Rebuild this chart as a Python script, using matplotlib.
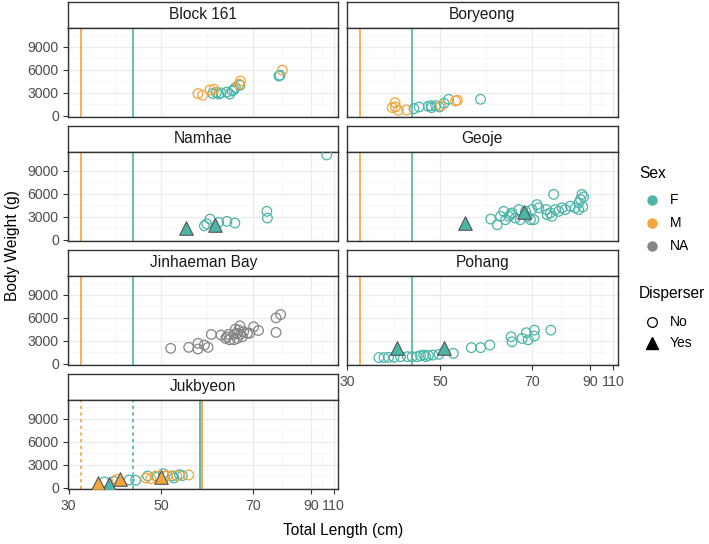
import numpy as np
import matplotlib
matplotlib.use("Agg")
import matplotlib.pyplot as plt
from matplotlib.lines import Line2D

plt.rcParams['font.family'] = ['Liberation Sans', 'DejaVu Sans']

# ---- data ----
sites = ["Block 161", "Boryeong", "Namhae", "Geoje", "Jinhaeman Bay", "Pohang", "Jukbyeon"]

tl_block161 = [58.0, 59.0, 60.6, 61.5, 61.2, 62.0, 62.5, 64.3, 64.9, 65.4, 66.1, 67.1, 67.2, 66.9, 78.9, 79.3, 80.1, 63.0, 65.8]
bw_block161 = [2910, 2690, 3380, 3460, 2910, 3040, 2850, 3120, 2850, 3250, 3690, 3990, 4550, 4120, 5200, 5300, 5940, 3000, 3400]
sex_block161 = "MMMMFFFFFFFFMMFFMFF"
disp_block161 = "N" * 19

tl_boryeong = [40.3, 39.7, 40.4, 41.0, 42.8, 44.4, 45.5, 47.5, 48.1, 49.1, 49.9, 50.2, 50.9, 51.9, 53.8, 53.4, 58.8, 48.2]
bw_boryeong = [1740, 1090, 1170, 740, 780, 960, 1170, 1260, 1340, 1340, 1170, 1340, 1650, 2170, 2040, 1950, 2170, 1090]
sex_boryeong = "MMMMMFFFFFFMFFMMFF"
disp_boryeong = "N" * 18

tl_namhae = [55.5, 61.6, 59.4, 59.9, 60.6, 62.5, 64.3, 66.0, 74.7, 74.9, 103.9]
bw_namhae = [1540, 1970, 1840, 2100, 2720, 2280, 2410, 2200, 3720, 2850, 11050]
sex_namhae = "F" * 11
disp_namhae = "YYNNNNNNNNN"

tl_geoje = [55.4, 68.1, 61.0, 62.4, 63.1, 63.8, 64.2, 64.9, 65.6, 66.3, 67.1, 67.4, 68.9, 69.6, 69.9, 70.5,
            71.6, 72.2, 75.1, 76.2, 77.4, 78.0, 79.1, 80.3, 81.4, 83.2, 84.9, 86.1, 86.7, 87.2,
            87.8, 87.5, 86.1, 76.8, 74.8, 68.5, 65.3]
bw_geoje = [2200, 3600, 2720, 1970, 3070, 3720, 2630, 3070, 3510, 2850, 3950, 2630, 3070, 2630, 3950, 2630,
            4600, 4170, 3290, 3510, 5920, 3950, 3720, 4170, 3950, 4390, 4170, 4820, 5260, 5920,
            5600, 4300, 3950, 3070, 3950, 3720, 3290]
sex_geoje = "F" * 37
disp_geoje = "YY" + "N" * 35

tl_jinhaeman = [52.1, 56.0, 58.0, 58.0, 59.4, 60.2, 60.9, 63.0, 64.0, 64.3, 64.9, 65.8, 66.1, 66.5, 67.1,
                67.2, 67.6, 67.9, 68.7, 69.2, 66.5, 65.8, 70.1, 71.8, 77.9, 79.5, 77.9, 64.6, 66.8]
bw_jinhaeman = [2030, 2160, 2680, 1940, 2460, 2160, 3840, 3750, 3320, 3530, 3140, 3140, 4520, 4000, 4960,
                3840, 3530, 4200, 4000, 4000, 3320, 3840, 4830, 4350, 5990, 6420, 4100, 3840, 4400]
sex_jinhaeman = "N" * 29
disp_jinhaeman = "N" * 29

tl_pohang = [40.8, 50.9, 36.8, 37.9, 38.9, 40.1, 41.5, 44.0, 45.1, 45.8, 46.5, 46.9, 48.5, 49.8, 52.9,
             56.8, 58.8, 60.8, 65.4, 65.6, 67.8, 68.7, 69.1, 70.7, 70.7, 76.4, 43.0, 47.5]
bw_pohang = [2030, 2030, 830, 830, 860, 860, 950, 950, 950, 1080, 1160, 950, 1160, 1250, 1380,
             2120, 2120, 2460, 3540, 2890, 3320, 4060, 3140, 4390, 3620, 4390, 950, 1100]
sex_pohang = "F" * 28
disp_pohang = "YY" + "N" * 26

tl_jukbyeon = [37.7, 39.8, 40.4, 43.1, 44.5, 46.7, 47.1, 47.8, 48.9, 49.2, 50.7, 50.5, 51.4, 52.5, 52.8,
               53.4, 54.0, 54.6, 56.0, 36.4, 38.8, 41.1, 50.1]
bw_jukbyeon = [780, 860, 1120, 1040, 990, 1300, 1560, 1210, 1560, 1430, 1560, 1860, 1600, 1560, 1300,
               1600, 1730, 1600, 1690, 690, 470, 1120, 1430]
sex_jukbyeon = "FFMFFMFMMFMFMFFMFFM" + "MFMM"
disp_jukbyeon = "N" * 19 + "YYYY"

site_tl = [tl_block161, tl_boryeong, tl_namhae, tl_geoje, tl_jinhaeman, tl_pohang, tl_jukbyeon]
site_bw = [bw_block161, bw_boryeong, bw_namhae, bw_geoje, bw_jinhaeman, bw_pohang, bw_jukbyeon]
site_sex = [sex_block161, sex_boryeong, sex_namhae, sex_geoje, sex_jinhaeman, sex_pohang, sex_jukbyeon]
site_disp = [disp_block161, disp_boryeong, disp_namhae, disp_geoje, disp_jinhaeman, disp_pohang, disp_jukbyeon]

# size-at-maturity reference lines
mat_f = 44.0
mat_m = 32.7
juk_mat_f = 58.4
juk_mat_m = 58.8

x_breaks = [30, 50, 70, 90, 110]
y_breaks = [0, 3000, 6000, 9000]

colors = {"F": "#4BB5A8", "M": "#F3A43B", "N": "#858585"}
sex_labels = [("F", "F"), ("M", "M"), ("N", "NA")]

# ---- custom x scale (axis is stretched below 70, squeezed above) ----
scale_pos = np.array([0.0, 92.6, 185.3, 243.0, 266.0])
brk = np.array(x_breaks, dtype=float)
s_lo = (scale_pos[1] - scale_pos[0]) / (brk[1] - brk[0])
s_hi = (scale_pos[-1] - scale_pos[-2]) / (brk[-1] - brk[-2])


def fwd(x):
    x = np.asarray(x, dtype=float)
    y = np.interp(x, brk, scale_pos)
    y = np.where(x < brk[0], scale_pos[0] + (x - brk[0]) * s_lo, y)
    y = np.where(x > brk[-1], scale_pos[-1] + (x - brk[-1]) * s_hi, y)
    return y


def inv(y):
    y = np.asarray(y, dtype=float)
    x = np.interp(y, scale_pos, brk)
    x = np.where(y < scale_pos[0], brk[0] + (y - scale_pos[0]) / s_lo, x)
    x = np.where(y > scale_pos[-1], brk[-1] + (y - scale_pos[-1]) / s_hi, x)
    return x


# ---- figure ----
W, H = 709, 544
fig = plt.figure(figsize=(W / 100, H / 100), dpi=100)


def px_axes(x0, y0, x1, y1):
    return fig.add_axes([x0 / W, 1 - y1 / H, (x1 - x0) / W, (y1 - y0) / H])


cols = [(68.3, 338.3), (347.0, 617.5)]
row_tops = [1.7, 125.7, 249.7, 373.7]
strip_h = 26
panel_h = 89.5
edge = "#333333"

for k, site in enumerate(sites):
    r, c = divmod(k, 2)
    x0, x1 = cols[c]
    top = row_tops[r]

    # strip
    sax = px_axes(x0, top, x1, top + strip_h)
    sax.set_xticks([])
    sax.set_yticks([])
    for sp in sax.spines.values():
        sp.set_color(edge)
        sp.set_linewidth(1.0)
    sax.text(0.5, 0.5, site, ha="center", va="center", fontsize=11.2, color="#1A1A1A",
             transform=sax.transAxes)

    # panel
    ax = px_axes(x0, top + strip_h, x1, top + strip_h + panel_h)
    ax.set_xscale("function", functions=(fwd, inv))
    ax.set_xlim(29.9, 114)
    ax.set_ylim(-160, 11470)
    ax.set_xticks(x_breaks)
    ax.set_xticks([40, 60, 80, 100], minor=True)
    ax.set_yticks(y_breaks)
    ax.set_yticks([1500, 4500, 7500, 10500], minor=True)
    ax.grid(True, which="major", color="#EBEBEB", linewidth=0.9)
    ax.grid(True, which="minor", color="#F4F4F4", linewidth=0.5)
    ax.set_axisbelow(True)
    for sp in ax.spines.values():
        sp.set_color(edge)
        sp.set_linewidth(1.0)
    ax.tick_params(which="minor", length=0)
    ax.tick_params(which="major", length=3.3, width=0.8, color=edge, labelsize=10.2,
                   labelcolor="#4D4D4D", pad=3.5)
    ax.set_xticklabels([str(b) for b in x_breaks])
    ax.set_yticklabels([str(b) for b in y_breaks])
    show_x = (site in ("Jukbyeon", "Pohang"))
    if not show_x:
        ax.tick_params(axis="x", length=0, labelbottom=False)
    if c == 1:
        ax.tick_params(axis="y", length=0, labelleft=False)

    # maturity lines
    if site == "Jukbyeon":
        ax.axvline(mat_m, color=colors["M"], lw=1.2, ls=(0, (2, 2)), zorder=1)
        ax.axvline(mat_f, color=colors["F"], lw=1.2, ls=(0, (2, 2)), zorder=1)
        ax.axvline(juk_mat_f, color=colors["F"], lw=1.3, zorder=1)
        ax.axvline(juk_mat_m, color=colors["M"], lw=1.3, zorder=1)
    else:
        ax.axvline(mat_m, color=colors["M"], lw=1.2, zorder=1)
        ax.axvline(mat_f, color=colors["F"], lw=1.2, zorder=1)

    tl = np.array(site_tl[k])
    bw = np.array(site_bw[k])
    sx = np.array(list(site_sex[k]))
    dp = np.array(list(site_disp[k]))
    for code in ("F", "M", "N"):
        m = (sx == code) & (dp == "N")
        if m.any():
            ax.scatter(tl[m], bw[m], s=48, facecolors="none", edgecolors=colors[code],
                       linewidths=0.9, zorder=3)
    for code in ("F", "M", "N"):
        m = (sx == code) & (dp == "Y")
        if m.any():
            ax.scatter(tl[m], bw[m], s=95, marker="^", facecolors=colors[code],
                       edgecolors="#555555", linewidths=0.8, zorder=4)

# axis titles
fig.text(343 / W, 1 - 531 / H, "Total Length (cm)", ha="center", va="center", fontsize=11.2)
fig.text(12 / W, 1 - 246 / H, "Body Weight (g)", ha="center", va="center", fontsize=11.2,
         rotation=90)

# legends
key_x = 651.7 / W
lab_x = 670 / W
fig.text(639 / W, 1 - 173 / H, "Sex", ha="left", va="center", fontsize=11.2)
for (code, lab), yy in zip(sex_labels, [200, 222.7, 245.7]):
    fig.add_artist(Line2D([key_x], [1 - yy / H], marker="o", markersize=6.5, color=colors[code],
                          linestyle="none", transform=fig.transFigure))
    fig.text(lab_x, 1 - yy / H, lab, ha="left", va="center", fontsize=10)

fig.text(639 / W, 1 - 293.3 / H, "Disperser", ha="left", va="center", fontsize=11.2)
fig.add_artist(Line2D([key_x], [1 - 321.7 / H], marker="o", markersize=7, markerfacecolor="none",
                      markeredgecolor="black", markeredgewidth=0.9, linestyle="none",
                      transform=fig.transFigure))
fig.text(lab_x, 1 - 321.7 / H, "No", ha="left", va="center", fontsize=10)
fig.add_artist(Line2D([key_x], [1 - 343.3 / H], marker="^", markersize=8, color="black",
                      linestyle="none", transform=fig.transFigure))
fig.text(lab_x, 1 - 343.3 / H, "Yes", ha="left", va="center", fontsize=10)

fig.savefig("out.png", dpi=100)
